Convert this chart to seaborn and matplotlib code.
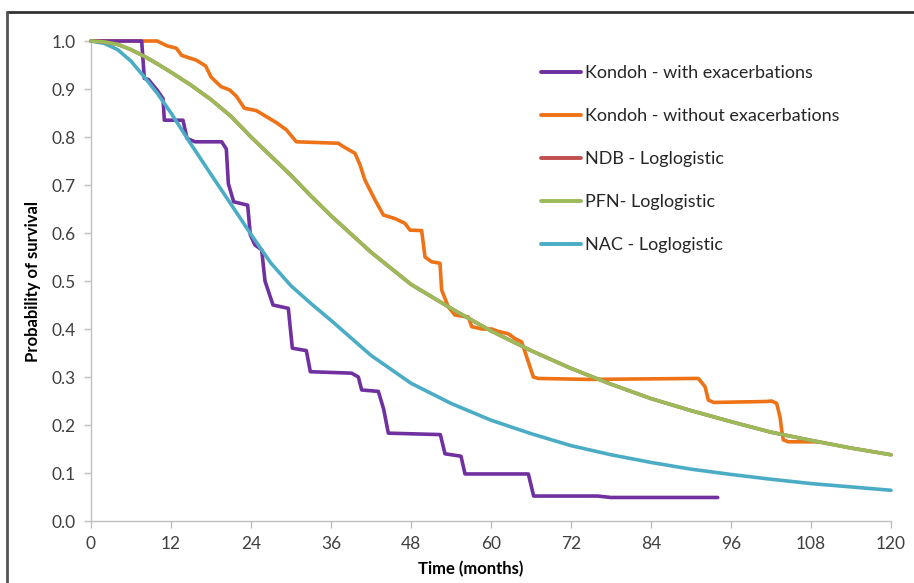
import seaborn as sns
import matplotlib.pyplot as plt
import matplotlib.lines as mlines
import pandas as pd

# Kaplan-Meier style curves (months, survival)
kondoh_with_t = [0, 7.6, 8.0, 8.6, 9.9, 10.8, 11.0, 13.8, 14.4, 15.6, 19.6, 20.3, 20.6, 21.4, 23.5,
                 23.9, 24.6, 25.6, 26.1, 27.3, 29.6, 30.2, 32.3, 32.9, 39.1, 40.1, 40.6, 43.1, 43.9,
                 44.6, 52.4, 53.1, 55.5, 56.1, 65.6, 66.4, 76.0, 78.0, 94.0]
kondoh_with_s = [1.0, 1.0, 0.922, 0.92, 0.898, 0.88, 0.835, 0.835, 0.797, 0.79, 0.79, 0.775, 0.703,
                 0.665, 0.658, 0.596, 0.575, 0.565, 0.50, 0.45, 0.443, 0.36, 0.355, 0.311, 0.308,
                 0.30, 0.273, 0.27, 0.233, 0.183, 0.18, 0.14, 0.135, 0.098, 0.098, 0.052, 0.052,
                 0.049, 0.049]

kondoh_without_t = [0, 9.9, 11.4, 12.8, 13.6, 15.8, 17.2, 18.0, 19.5, 20.8, 21.8, 23.0, 24.8, 26.0,
                    27.8, 29.3, 30.8, 37.1, 37.6, 39.6, 40.35, 41.1, 42.6, 43.85, 45.6, 47.1, 47.85,
                    49.6, 50.1, 51.1, 52.35, 52.6, 53.6, 54.6, 56.6, 57.1, 58.6, 60.1, 61.1, 62.6,
                    63.6, 64.6, 65.35, 66.35, 67.1, 74.6, 91.1, 92.1, 92.6, 93.4, 101.35, 102.1,
                    102.85, 103.35, 103.6, 103.85, 104.6, 109.0]
kondoh_without_s = [1.0, 1.0, 0.99, 0.985, 0.97, 0.96, 0.948, 0.925, 0.905, 0.898, 0.885, 0.86,
                    0.855, 0.845, 0.83, 0.815, 0.79, 0.787, 0.782, 0.766, 0.742, 0.71, 0.669,
                    0.6375, 0.63, 0.62, 0.606, 0.605, 0.55, 0.54, 0.537, 0.481, 0.446, 0.429, 0.425,
                    0.405, 0.40, 0.40, 0.395, 0.39, 0.38, 0.373, 0.342, 0.30, 0.297, 0.295, 0.297,
                    0.28, 0.252, 0.247, 0.249, 0.25, 0.245, 0.217, 0.19, 0.169, 0.165, 0.165]

# fitted loglogistic curves, values read at sample months
fit_t = [0, 2, 4, 6, 8, 10, 12, 15, 18, 21, 24, 27, 30, 33, 36, 42, 48, 54, 60, 66, 72, 78, 84,
         90, 96, 102, 108, 114, 120]
pfn_s = [1.0, 0.998, 0.993, 0.982, 0.968, 0.952, 0.935, 0.908, 0.878, 0.843, 0.80, 0.76, 0.72,
         0.677, 0.636, 0.56, 0.493, 0.443, 0.396, 0.355, 0.318, 0.285, 0.255, 0.23, 0.207,
         0.185, 0.168, 0.152, 0.138]
ndb_s = pfn_s  # hidden beneath the PFN line in the picture
nac_s = [1.0, 0.995, 0.982, 0.958, 0.925, 0.89, 0.85, 0.785, 0.722, 0.66, 0.597, 0.537, 0.49,
         0.453, 0.418, 0.345, 0.287, 0.245, 0.21, 0.182, 0.157, 0.138, 0.122, 0.108, 0.097,
         0.087, 0.078, 0.071, 0.064]

labels = ["Kondoh - with exacerbations", "Kondoh - without exacerbations",
          "NDB - Loglogistic", "PFN- Loglogistic", "NAC - Loglogistic"]
colors = ["#7030A0", "#EE7216", "#C0504D", "#9BBB59", "#4BACC6"]
x_ticks = list(range(0, 121, 12))
y_ticks = [i / 10 for i in range(11)]

frames = []
for lab, t, s in zip(labels,
                     [kondoh_with_t, kondoh_without_t, fit_t, fit_t, fit_t],
                     [kondoh_with_s, kondoh_without_s, ndb_s, pfn_s, nac_s]):
    frames.append(pd.DataFrame({"t": t, "s": s, "series": lab}))

sns.set_style("white")
plt.rcParams["font.family"] = ["Lato", "DejaVu Sans"]

fig = plt.figure(figsize=(9.14, 5.83), dpi=100)
ax = fig.add_axes([91 / 914, 1 - 521 / 583, 800 / 914, 480 / 583])

# draw order: orange over purple, cyan, green on top
order = [1, 0, 4, 2, 3]
z = {0: 3, 1: 2, 2: 4, 3: 5, 4: 3.5}
for i in order:
    sns.lineplot(data=frames[i], x="t", y="s", ax=ax, color=colors[i], linewidth=2.6,
                 estimator=None, sort=False, label=labels[i], clip_on=False, zorder=z[i])

ax.set_xlim(0, 120)
ax.set_ylim(0, 1)
ax.set_xticks(x_ticks)
ax.set_yticks(y_ticks)
ax.set_yticklabels([f"{v:.1f}" for v in y_ticks])
for sp in ["top", "right"]:
    ax.spines[sp].set_visible(False)
for sp in ["left", "bottom"]:
    ax.spines[sp].set_color("#BFBFBF")
    ax.spines[sp].set_linewidth(1)
ax.tick_params(axis="both", direction="out", length=5, width=1, color="#BFBFBF",
               labelsize=12.5, labelcolor="#404040", pad=6, bottom=True, left=True)

ax.set_xlabel("Time (months)", fontsize=12, fontweight="bold", color="black")
ax.xaxis.set_label_coords(0.474, -0.083)
ax.set_ylabel("Probability of survival", fontsize=12, fontweight="bold", color="black")
ax.yaxis.set_label_coords(-0.063, 0.5)

handles = [mlines.Line2D([], [], color=colors[i], linewidth=2.8) for i in range(5)]
ax.legend(handles, labels, loc="upper left", bbox_to_anchor=(0.542, 0.984), frameon=False,
          fontsize=13, handlelength=2.2, handletextpad=0.25, labelspacing=1.5,
          labelcolor="#262626")

# chart-area border (top and left only visible in the crop)
fig.add_artist(mlines.Line2D([7 / 914, 1], [1 - 12 / 583, 1 - 12 / 583],
                             transform=fig.transFigure, color="#333333", linewidth=2))
fig.add_artist(mlines.Line2D([7 / 914, 7 / 914], [0, 1 - 12 / 583],
                             transform=fig.transFigure, color="#555555", linewidth=2))

fig.savefig("out.png", dpi=100)
